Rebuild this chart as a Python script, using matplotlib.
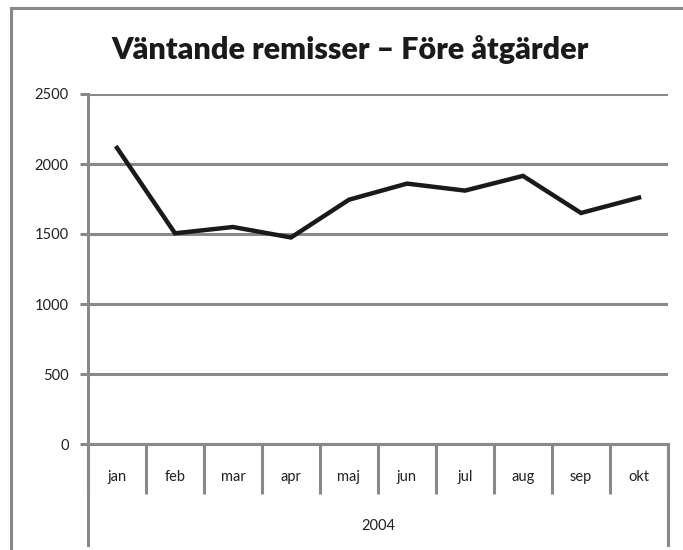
import matplotlib.pyplot as plt
from matplotlib.patches import Rectangle

# data
months = ['jan', 'feb', 'mar', 'apr', 'maj', 'jun', 'jul', 'aug', 'sep', 'okt']
waiting = [2115, 1505, 1550, 1475, 1745, 1860, 1810, 1915, 1650, 1760]
year_label = '2004'
title = 'Väntande remisser – Före åtgärder'
yticks = [0, 500, 1000, 1500, 2000, 2500]

grey = '#8c8888'
font = ['Lato', 'DejaVu Sans']

fig = plt.figure(figsize=(6.83, 5.50), dpi=100)
ax = fig.add_axes([88/683, 1 - 444/550, 580/683, 350/550])

x = list(range(len(months)))
ax.plot(x, waiting, color='#1a1a1a', lw=3.2, solid_joinstyle='miter', zorder=3)

ax.set_xlim(-0.5, len(months) - 0.5)
ax.set_ylim(0, 2500)
ax.set_yticks(yticks)
ax.set_yticklabels([str(v) for v in yticks], family=font, fontsize=10.5, color='#222222')
ax.yaxis.grid(True, color=grey, lw=2.2)
ax.set_axisbelow(True)

# category labels in the middle, dividers between categories
ax.set_xticks(x)
ax.set_xticklabels(months, family=font, fontsize=10.5, color='#222222')
ax.set_xticks([i - 0.5 for i in range(len(months) + 1)], minor=True)
ax.tick_params(axis='x', which='major', length=0, pad=19)
ax.tick_params(axis='x', which='minor', length=36, width=2.2, color=grey, direction='out')
ax.tick_params(axis='y', length=6, width=2.2, color=grey, pad=8)

for side in ['top', 'right']:
    ax.spines[side].set_visible(False)
ax.spines['left'].set_color(grey)
ax.spines['left'].set_linewidth(2.2)
ax.spines['bottom'].set_color(grey)
ax.spines['bottom'].set_linewidth(2.2)

# outer year level
trans = ax.get_xaxis_transform()
for xe in [-0.5, len(months) - 0.5]:
    ax.plot([xe, xe], [0, -101/350], transform=trans, color=grey, lw=2.2, clip_on=False)
ax.text((len(months) - 1) / 2, -82/350, year_label, transform=trans, ha='center', va='center',
        family=font, fontsize=10.5, color='#222222')

fig.text(350/683, 1 - 50/550, title, ha='center', va='center',
         family=font, fontweight='heavy', fontsize=22, color='#1a1a1a')

# chart area border
fig.add_artist(Rectangle((11/683, -0.1), 1.2, 1.1 - 8/550, transform=fig.transFigure,
                         fill=False, edgecolor='#888888', lw=2.2))

fig.savefig('out.png', dpi=100)
